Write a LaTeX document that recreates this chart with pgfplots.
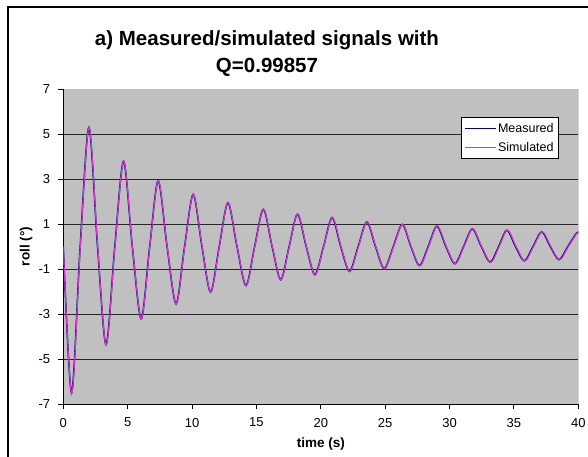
\documentclass[border=0pt]{standalone}
\usepackage{fontspec}
\setmainfont{Liberation Sans}
\usepackage{pgfplots}
\usepackage{pgfplotstable}
\pgfplotsset{compat=1.18}

\definecolor{plotgray}{RGB}{192,192,192}
\definecolor{navyline}{RGB}{0,0,128}
\definecolor{magline}{RGB}{210,56,200}

% roll angle (deg) against time (s), extrema and crossings
\pgfplotstableread{
t roll
0 0
0.64 -6.50
1.31 0
1.99 5.29
2.66 0
3.32 -4.35
4.00 0
4.68 3.80
5.36 0
6.05 -3.21
6.71 0
7.37 2.92
8.06 0
8.76 -2.54
9.42 0
10.09 2.32
10.77 0
11.44 -2.02
12.11 0
12.79 1.95
13.49 0
14.19 -1.73
14.86 0
15.54 1.66
16.22 0
16.89 -1.47
17.54 0
18.19 1.44
18.87 0
19.54 -1.25
20.21 0
20.88 1.29
21.55 0
22.23 -1.10
22.90 0
23.58 1.10
24.25 0
24.93 -0.98
25.63 0
26.33 0.99
27.00 0
27.67 -0.84
28.34 0
29.02 0.91
29.72 0
30.42 -0.76
31.09 0
31.77 0.79
32.47 0
33.16 -0.69
33.81 0
34.46 0.73
35.13 0
35.81 -0.63
36.48 0
37.16 0.66
37.83 0
38.51 -0.58
39.18 0
39.86 0.60
40 0.60
}\measured

\pgfplotstableread{
t roll
0 0
0.65 -6.52
1.32 0
2.00 5.31
2.67 0
3.33 -4.37
4.01 0
4.69 3.81
5.37 0
6.06 -3.22
6.72 0
7.38 2.93
8.07 0
8.77 -2.55
9.43 0
10.10 2.33
10.78 0
11.45 -2.03
12.12 0
12.80 1.96
13.50 0
14.20 -1.74
14.87 0
15.55 1.67
16.23 0
16.90 -1.48
17.55 0
18.20 1.45
18.88 0
19.55 -1.26
20.22 0
20.90 1.30
21.57 0
22.25 -1.11
22.92 0
23.60 1.11
24.27 0
24.95 -0.99
25.65 0
26.35 1.00
27.02 0
27.70 -0.85
28.37 0
29.05 0.92
29.75 0
30.45 -0.77
31.12 0
31.80 0.80
32.50 0
33.20 -0.70
33.85 0
34.50 0.74
35.17 0
35.85 -0.64
36.52 0
37.20 0.67
37.87 0
38.55 -0.59
39.22 0
39.90 0.60
40 0.59
}\simulated

\begin{document}
\begin{tikzpicture}
\useasboundingbox (-63.3pt,-51.7pt) rectangle (524.7pt,404.3pt);
% chart frame
\draw[line width=1.6pt] (-55.3pt,-60pt) -- (-55.3pt,397.3pt) -- (540pt,397.3pt);
% title
\node[anchor=base, font=\bfseries\fontsize{20.5}{20.5}\selectfont] at (203.7pt,358.6pt) {a) Measured/simulated signals with};
\node[anchor=base, font=\bfseries\fontsize{20.5}{20.5}\selectfont] at (203.7pt,331.6pt) {Q=0.99857};

\begin{axis}[
  at={(0pt,0pt)}, anchor=south west,
  scale only axis,
  width=515pt, height=315.3pt,
  xmin=0, xmax=40, ymin=-7, ymax=7,
  xtick={0,5,...,40},
  ytick={-7,-5,...,7},
  axis lines*=left,
  axis line style={black, line width=0.9pt},
  axis background/.style={fill=plotgray},
  tick align=outside,
  major tick length=5pt,
  tick style={black, line width=0.9pt},
  ticklabel style={font=\fontsize{13}{13}\selectfont},
  /pgf/number format/assume math mode=true,
  yticklabel style={inner sep=0pt, anchor=east, xshift=-8pt},
  xticklabel style={inner sep=0pt, anchor=north, yshift=-8.5pt},
  xlabel={time (s)},
  ylabel={roll (°)},
  label style={font=\bfseries\fontsize{13.5}{13.5}\selectfont},
  xlabel style={at={(axis description cs:0.5,-0.1354)}, anchor=base},
  ylabel style={at={(axis description cs:-0.0656,0.5)}, anchor=base},
  legend style={at={(axis description cs:0.9625,0.911)}, anchor=north east,
    draw=black, line width=0.8pt, fill=white,
    font=\fontsize{12.5}{12.5}\selectfont,
    inner xsep=3pt, inner ysep=3.5pt, row sep=5pt,
    nodes={inner sep=2pt}},
  legend cell align=left,
  legend image code/.code={\draw[#1, line width=1pt] (0pt,0pt) -- (31pt,0pt);},
]
% horizontal grid lines
\draw[black!85, line width=0.9pt] (axis cs:0,5) -- (axis cs:40,5);
\draw[black!85, line width=0.9pt] (axis cs:0,3) -- (axis cs:40,3);
\draw[black!85, line width=0.9pt] (axis cs:0,1) -- (axis cs:40,1);
\draw[black!85, line width=0.9pt] (axis cs:0,-1) -- (axis cs:40,-1);
\draw[black!85, line width=0.9pt] (axis cs:0,-3) -- (axis cs:40,-3);
\draw[black!85, line width=0.9pt] (axis cs:0,-5) -- (axis cs:40,-5);
\draw[black!50, line width=1.2pt] (rel axis cs:1,0) -- (rel axis cs:1,1);

\addplot[navyline, line width=1.5pt, smooth] table[x=t, y=roll] {\measured};
\addlegendentry{Measured}
\addplot[magline, line width=1.1pt, smooth] table[x=t, y=roll] {\simulated};
\addlegendentry{Simulated}
\end{axis}
\end{tikzpicture}
\end{document}
